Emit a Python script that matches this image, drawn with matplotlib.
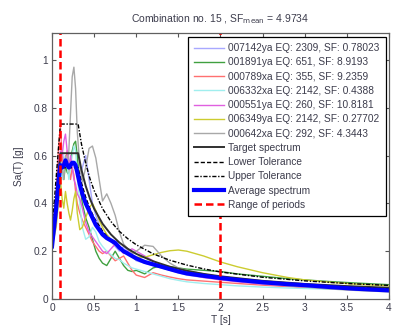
import matplotlib
matplotlib.use("Agg")
import matplotlib.pyplot as plt
import numpy as np

plt.rcParams['font.family'] = ['Liberation Sans', 'DejaVu Sans']

# Period grid shared by the record spectra [s]
periods = [0, 0.05, 0.08, 0.1, 0.12, 0.14, 0.16, 0.18, 0.2, 0.22, 0.24, 0.26, 0.28, 0.3,
           0.33, 0.36, 0.4, 0.44, 0.48, 0.52, 0.56, 0.6, 0.65, 0.7, 0.75, 0.8, 0.85, 0.9,
           0.95, 1.0, 1.1, 1.2, 1.3, 1.4, 1.5, 1.6, 1.8, 2.0, 2.2, 2.5, 2.8, 3.0, 3.3, 3.6, 4.0]

rec_007142ya = [0.22, 0.35, 0.48, 0.55, 0.62, 0.58, 0.55, 0.60, 0.58, 0.55, 0.57, 0.55, 0.56, 0.55,
                0.50, 0.55, 0.60, 0.50, 0.40, 0.35, 0.31, 0.28, 0.26, 0.24, 0.22, 0.20, 0.22, 0.20,
                0.18, 0.16, 0.15, 0.14, 0.13, 0.12, 0.11, 0.10, 0.09, 0.085, 0.078, 0.07, 0.063, 0.06,
                0.055, 0.05, 0.045]
rec_001891ya = [0.23, 0.35, 0.48, 0.55, 0.52, 0.50, 0.56, 0.53, 0.52, 0.58, 0.62, 0.65, 0.66, 0.60,
                0.48, 0.40, 0.34, 0.30, 0.25, 0.20, 0.17, 0.15, 0.14, 0.17, 0.20, 0.17, 0.14, 0.12,
                0.115, 0.12, 0.105, 0.13, 0.14, 0.135, 0.13, 0.125, 0.12, 0.115, 0.105, 0.095, 0.085,
                0.08, 0.073, 0.067, 0.06]
rec_000789xa = [0.24, 0.45, 0.65, 0.72, 0.60, 0.52, 0.58, 0.62, 0.55, 0.50, 0.55, 0.52, 0.45, 0.40,
                0.36, 0.33, 0.30, 0.27, 0.24, 0.22, 0.20, 0.19, 0.20, 0.18, 0.16, 0.17, 0.18, 0.15,
                0.12, 0.10, 0.09, 0.11, 0.10, 0.092, 0.085, 0.08, 0.075, 0.07, 0.065, 0.058, 0.052,
                0.048, 0.043, 0.038, 0.033]
rec_006332xa = [0.23, 0.36, 0.50, 0.58, 0.50, 0.55, 0.60, 0.56, 0.50, 0.55, 0.60, 0.64, 0.62, 0.52,
                0.40, 0.30, 0.25, 0.26, 0.30, 0.28, 0.24, 0.22, 0.20, 0.185, 0.17, 0.165, 0.15, 0.14,
                0.13, 0.125, 0.115, 0.105, 0.095, 0.085, 0.078, 0.072, 0.065, 0.06, 0.055, 0.05,
                0.046, 0.044, 0.041, 0.039, 0.037]
rec_000551ya = [0.23, 0.40, 0.58, 0.62, 0.60, 0.66, 0.69, 0.62, 0.55, 0.60, 0.55, 0.50, 0.48, 0.44,
                0.42, 0.38, 0.32, 0.28, 0.26, 0.24, 0.22, 0.20, 0.19, 0.21, 0.23, 0.21, 0.19, 0.20,
                0.21, 0.20, 0.18, 0.16, 0.14, 0.125, 0.115, 0.105, 0.09, 0.08, 0.072, 0.062, 0.055,
                0.05, 0.046, 0.042, 0.038]
rec_006349ya = [0.22, 0.30, 0.42, 0.50, 0.42, 0.38, 0.45, 0.40, 0.36, 0.33, 0.37, 0.42, 0.45, 0.36,
                0.29, 0.30, 0.34, 0.38, 0.40, 0.37, 0.33, 0.30, 0.27, 0.25, 0.24, 0.22, 0.20, 0.19,
                0.18, 0.175, 0.175, 0.185, 0.195, 0.202, 0.205, 0.20, 0.18, 0.155, 0.135, 0.11, 0.09,
                0.08, 0.07, 0.062, 0.055]
rec_000642xa = [0.25, 0.38, 0.50, 0.58, 0.55, 0.50, 0.60, 0.55, 0.62, 0.78, 0.93, 0.97, 0.88, 0.70,
                0.56, 0.49, 0.55, 0.63, 0.64, 0.59, 0.50, 0.41, 0.44, 0.40, 0.35, 0.28, 0.23, 0.21,
                0.19, 0.20, 0.225, 0.22, 0.18, 0.15, 0.13, 0.12, 0.105, 0.09, 0.08, 0.065, 0.055,
                0.05, 0.042, 0.036, 0.03]

average_spectrum = [0.22, 0.38, 0.50, 0.56, 0.55, 0.56, 0.58, 0.56, 0.55, 0.56, 0.57, 0.57, 0.56, 0.53,
                    0.48, 0.44, 0.40, 0.37, 0.34, 0.31, 0.29, 0.27, 0.255, 0.245, 0.235, 0.215, 0.20,
                    0.19, 0.18, 0.17, 0.155, 0.145, 0.135, 0.125, 0.115, 0.107, 0.097, 0.088, 0.08,
                    0.07, 0.062, 0.058, 0.05, 0.043, 0.036]

# Target spectrum and tolerance band
target_periods = [0, 0.1, 0.31, 0.35, 0.4, 0.45, 0.5, 0.6, 0.7, 0.8, 0.9, 1.0, 1.2, 1.4, 1.6,
                  1.8, 2.0, 2.5, 3.0, 3.5, 4.0]
target = [0.24, 0.61, 0.61, 0.540, 0.473, 0.420, 0.378, 0.315, 0.270, 0.236, 0.210, 0.189,
          0.158, 0.135, 0.118, 0.105, 0.095, 0.076, 0.063, 0.054, 0.047]
lower_tol = [0.216, 0.549, 0.549, 0.486, 0.426, 0.378, 0.340, 0.284, 0.243, 0.212, 0.189, 0.170,
             0.142, 0.122, 0.106, 0.095, 0.085, 0.068, 0.057, 0.049, 0.042]
upper_tol = [0.288, 0.732, 0.732, 0.648, 0.568, 0.504, 0.454, 0.378, 0.324, 0.283, 0.252, 0.227,
             0.189, 0.162, 0.142, 0.126, 0.113, 0.091, 0.076, 0.065, 0.057]

period_range = [0.1, 2.0]

record_labels = ["007142ya EQ: 2309, SF: 0.78023",
                 "001891ya EQ: 651, SF: 8.9193",
                 "000789xa EQ: 355, SF: 9.2359",
                 "006332xa EQ: 2142, SF: 0.4388",
                 "000551ya EQ: 260, SF: 10.8181",
                 "006349ya EQ: 2142, SF: 0.27702",
                 "000642xa EQ: 292, SF: 4.3443"]
records = [rec_007142ya, rec_001891ya, rec_000789xa, rec_006332xa,
           rec_000551ya, rec_006349ya, rec_000642xa]
record_colors = ["#a8a8ff", "#40a040", "#ff7070", "#a0eeee", "#e060e0", "#cccc30", "#a8a8a8"]

sf_mean = 4.9734
combination = 15

fig = plt.figure(figsize=(3.96, 3.26), dpi=100)
ax = fig.add_axes([0.1313, 0.0828, 0.851, 0.816])

for vals, lab, col in zip(records, record_labels, record_colors):
    ax.plot(periods, vals, color=col, lw=1.0, label=lab)

ax.plot(target_periods, target, color="#303030", lw=1.4, label="Target spectrum")
ax.plot(target_periods, lower_tol, color="black", lw=1.0, ls=(0, (3, 1.5)), label="Lower Tolerance")
ax.plot(target_periods, upper_tol, color="black", lw=1.0, ls=(0, (3, 1.2, 1, 1.2)), label="Upper Tolerance")
ax.plot(periods, average_spectrum, color="#0000ff", lw=3.0, label="Average spectrum")
for i, tp in enumerate(period_range):
    ax.axvline(tp, color="#ff0000", lw=1.8, ls=(0, (3, 1.6)),
               label="Range of periods" if i == 0 else None)

ax.set_xlim(0, 4)
ax.set_ylim(0, 1.113)
ax.set_xticks(np.arange(0, 4.01, 0.5))
ax.set_xticklabels(["0", "0.5", "1", "1.5", "2", "2.5", "3", "3.5", "4"])
ax.set_yticks([0, 0.2, 0.4, 0.6, 0.8, 1.0])
ax.set_yticklabels(["0", "0.2", "0.4", "0.6", "0.8", "1"])

label_color = "#3c3c4c"
ax.tick_params(direction="in", length=3, width=0.8, top=True, right=True,
               labelsize=7.3, colors="#555555", labelcolor=label_color, pad=3)
for sp in ax.spines.values():
    sp.set_color("#606060")
    sp.set_linewidth(0.9)

ax.set_xlabel("T [s]", fontsize=7.3, color=label_color, labelpad=1)
ax.set_ylabel("Sa(T) [g]", fontsize=7.3, color=label_color, labelpad=7)
ax.set_title(f"Combination no. {combination} , SF$_{{\\mathrm{{mean}}}}$ = {sf_mean}",
             fontsize=7.5, color=label_color, pad=8)

leg = ax.legend(loc="upper right", bbox_to_anchor=(0.99, 0.985), fontsize=7.3,
                handlelength=3.0, handletextpad=0.4, labelspacing=0.42,
                borderpad=0.6, borderaxespad=0.0, fancybox=False, framealpha=1.0)
leg.get_frame().set_edgecolor("black")
leg.get_frame().set_linewidth(0.9)
for t in leg.get_texts():
    t.set_color(label_color)

fig.savefig("out.png", dpi=100)
